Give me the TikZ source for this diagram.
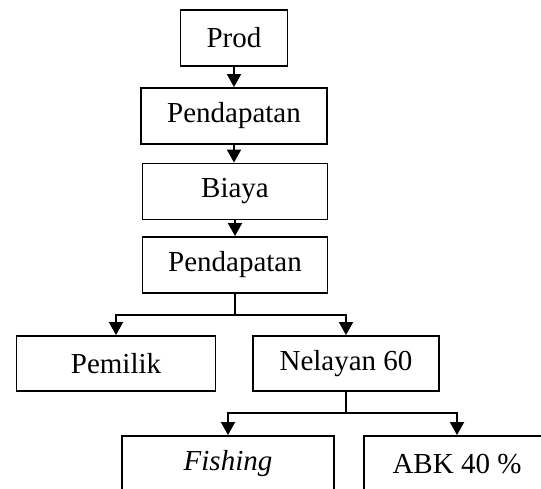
\documentclass[tikz,border=0pt]{standalone}
\usepackage{fontspec}
\setmainfont{Liberation Serif}
\usetikzlibrary{arrows.meta}
\begin{document}
\begin{tikzpicture}[x=1pt,y=-1pt,
  box/.style={draw,line width=1.9pt,inner sep=0pt,minimum height=56pt,font=\fontsize{29}{34}\selectfont},
  conn/.style={line width=1.9pt},
  arr/.style={conn,-{Triangle[width=14pt,length=13pt]}}]
\useasboundingbox (0,0) rectangle (541,488);
\node[box,minimum width=107pt] (prod) at (234,38) {Prod};
\node[box,minimum width=186pt] (pend1) at (234,116) {Pendapatan};
\node[box,minimum width=185pt] (biaya) at (235,191.5) {Biaya};
\node[box,minimum width=185pt] (pend2) at (235,265) {Pendapatan};
\node[box,minimum width=199pt,minimum height=55pt] (pemilik) at (116,363.5) {Pemilik};
\node[box,minimum width=186pt,minimum height=55pt] (nelayan) at (346,363.5) {Nelayan 60};
\node[box,minimum width=212pt] (fishing) at (228,464) {\textit{Fishing}};
\node[box,minimum width=186pt] (abk) at (457,464) {ABK 40 \%};
\draw[arr] (prod.south) -- (pend1.north);
\draw[arr] (pend1.south) -- (biaya.north -| pend1.south);
\draw[arr] (biaya.south) -- (pend2.north);
\coordinate (b1) at (235,315);
\draw[conn] (pend2.south) -- (b1);
\draw[arr] (b1) -| (pemilik.north);
\draw[arr] (b1) -| (nelayan.north);
\coordinate (b2) at (346,413);
\draw[conn] (nelayan.south) -- (b2);
\draw[arr] (b2) -| (fishing.north);
\draw[arr] (b2) -| (abk.north);
\end{tikzpicture}
\end{document}
